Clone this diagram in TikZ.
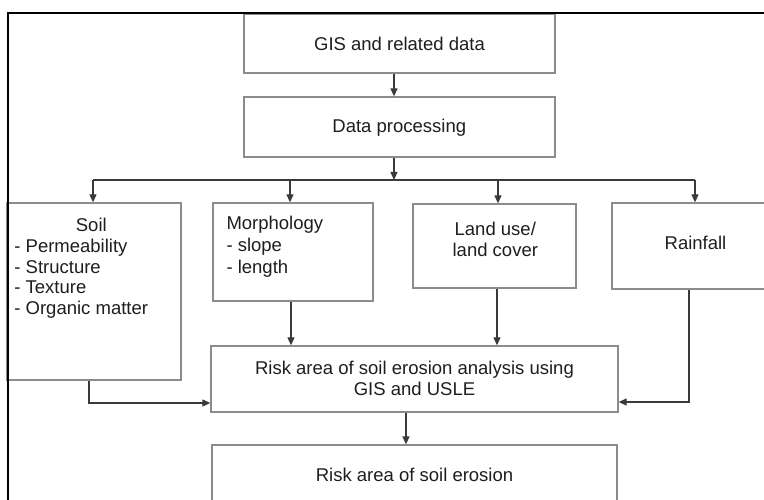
\documentclass[tikz,border=0pt]{standalone}
\usepackage{fontspec}
\setmainfont{Liberation Sans}
\usetikzlibrary{arrows.meta}
\definecolor{boxgray}{HTML}{8C8C8C}
\definecolor{linegray}{HTML}{3A3A3A}
\definecolor{txt}{HTML}{1E1E1E}
\begin{document}
\begin{tikzpicture}[x=1pt,y=-1pt,
  box/.style={draw=boxgray, line width=1.3pt, inner sep=0pt, fill=white},
  conn/.style={draw=linegray, line width=1.1pt, -{Triangle[length=8pt,width=7pt]}},
  plain/.style={draw=linegray, line width=1.1pt},
  lbl/.style={inner sep=0pt, text=txt, font=\fontsize{18.5}{21}\selectfont},
  frame/.style={draw=black, line width=2.2pt}]
\useasboundingbox (0,0) rectangle (764,500);
\begin{scope}
\clip (0,0) rectangle (764,500);
\fill[white] (0,0) rectangle (764,500);
% boxes
\node[box, minimum width=311pt, minimum height=59pt] (gis) at (399.5,43.5) {};
\node[box, minimum width=311pt, minimum height=60pt] (proc) at (399.5,127) {};
\node[box, minimum width=174pt, minimum height=177pt] (soil) at (94,291.5) {};
\node[box, minimum width=160pt, minimum height=98pt] (morph) at (293,252) {};
\node[box, minimum width=163pt, minimum height=84pt] (land) at (494.5,246) {};
\node[box, minimum width=166pt, minimum height=86pt] (rain) at (695,246) {};
\node[box, minimum width=407pt, minimum height=66pt] (ana) at (414.5,379) {};
\node[box, minimum width=405pt, minimum height=61pt] (risk) at (414.5,475.5) {};
% frame
\draw[frame] (8,520) -- (8,13) -- (780,13);
% texts
\node[lbl, anchor=base] (tgis) at (399.5,50.7) {GIS and related data};
\node[lbl, anchor=base] (tproc) at (399.3,132.6) {Data processing};
\node[lbl, anchor=base] (tsoil) at (91.3,231.6) {Soil};
\node[lbl, anchor=base west] (tsoila) at (14.2,252.6) {- Permeability};
\node[lbl, anchor=base west] (tsoilb) at (14.2,273.3) {- Structure};
\node[lbl, anchor=base west] (tsoilc) at (14.2,293.9) {- Texture};
\node[lbl, anchor=base west] (tsoild) at (14.2,314.9) {- Organic matter};
\node[lbl, anchor=base west] (tmorpha) at (226.3,229.9) {Morphology};
\node[lbl, anchor=base west] (tmorphb) at (226.3,251.6) {- slope};
\node[lbl, anchor=base west] (tmorphc) at (226.3,273.3) {- length};
\node[lbl, anchor=base] (tlanda) at (495.3,235.9) {Land use/};
\node[lbl, anchor=base] (tlandb) at (495.3,256.6) {land cover};
\node[lbl, anchor=base] (train) at (695.5,249.6) {Rainfall};
\node[lbl, anchor=base] (tanaa) at (414.5,374.9) {Risk area of soil erosion analysis using};
\node[lbl, anchor=base] (tanab) at (414.5,395.9) {GIS and USLE};
\node[lbl, anchor=base] (trisk) at (414.5,481.6) {Risk area of soil erosion};
% connectors
\coordinate (hub) at (394,180);
\coordinate (bl) at (93,180);
\coordinate (bm) at (290,180);
\coordinate (bn) at (498,180);
\coordinate (br) at (695,180);
\draw[conn] ([xshift=-5.5pt]gis.south) -- ([xshift=-5.5pt]proc.north);
\draw[conn] ([xshift=-5.5pt]proc.south) -- (hub);
\draw[plain] (bl) -- (br);
\draw[conn] (bl) -- (bl |- soil.north);
\draw[conn] (bm) -- (bm |- morph.north);
\draw[conn] (bn) -- (bn |- land.north);
\draw[conn] (br) -- (rain.north);
\draw[conn] ([xshift=-2pt]morph.south) -- ([xshift=-2pt]morph.south |- ana.north);
\draw[conn] ([xshift=2.5pt]land.south) -- ([xshift=2.5pt]land.south |- ana.north);
\draw[conn] ([xshift=-5pt]soil.south) |- ([yshift=-24pt]ana.west);
\draw[conn] ([xshift=-6pt]rain.south) |- ([yshift=-23pt]ana.east);
\draw[conn] ([xshift=-8.5pt]ana.south) -- ([xshift=-8.5pt]risk.north);
\end{scope}
\end{tikzpicture}
\end{document}
